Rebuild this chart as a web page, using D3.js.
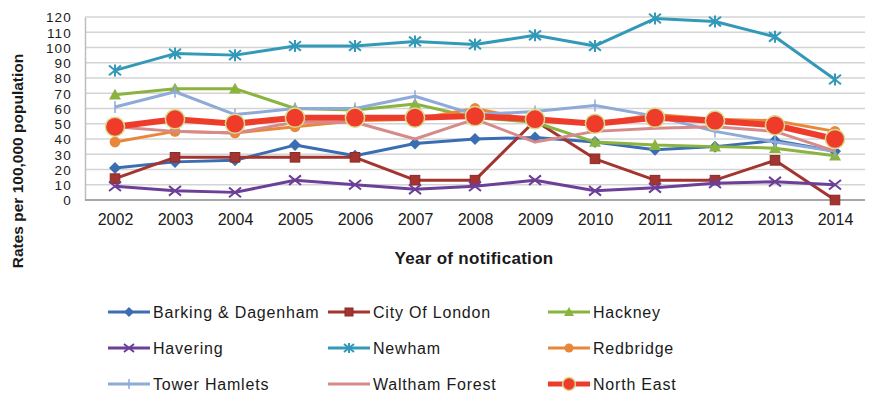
<!DOCTYPE html>
<html>
<head>
<meta charset="utf-8">
<script src="https://cdn.jsdelivr.net/npm/d3@7"></script>
<style>
  body { margin: 0; background: #fff; }
  svg text { font-family: "Liberation Sans", Arial, sans-serif; fill: #1a1a1a; }
</style>
</head>
<body>
<div id="chart"></div>
<script>
var years = ["2002","2003","2004","2005","2006","2007","2008","2009","2010","2011","2012","2013","2014"];
var yTicks = [0,10,20,30,40,50,60,70,80,90,100,110,120];

var barkingDagenham = [21, 25, 26, 36, 29, 37, 40, 41, 38, 33, 35, 39, 32];
var cityOfLondon    = [14, 28, 28, 28, 28, 13, 13, 52, 27, 13, 13, 26, 0];
var hackney         = [69, 73, 73, 60, 59, 63, 54, 51, 38, 36, 35, 34, 29];
var havering        = [9, 6, 5, 13, 10, 7, 9, 13, 6, 8, 11, 12, 10];
var newham          = [85, 96, 95, 101, 101, 104, 102, 108, 101, 119, 117, 107, 79];
var redbridge       = [38, 45, 44, 48, 52, 53, 60, 52, 50, 56, 53, 52, 45];
var towerHamlets    = [61, 71, 56, 60, 60, 68, 56, 58, 62, 55, 45, 38, 32];
var walthamForest   = [48, 45, 44, 51, 51, 40, 53, 38, 45, 47, 48, 45, 32];
var northEast       = [48, 53, 50, 54, 54, 54, 55, 53, 50, 54, 52, 49, 40];

var seriesNames = ["Barking & Dagenham","City Of London","Hackney","Havering","Newham","Redbridge","Tower Hamlets","Waltham Forest","North East"];
var seriesValues = [barkingDagenham, cityOfLondon, hackney, havering, newham, redbridge, towerHamlets, walthamForest, northEast];

// look of each series
var styles = [
    { color: "#3b6db3", marker: "diamond",  width: 3 },
    { color: "#a3342f", marker: "square",   width: 3 },
    { color: "#8ab43f", marker: "triangle", width: 3 },
    { color: "#6c3f98", marker: "x",        width: 3 },
    { color: "#3399b8", marker: "star",     width: 3 },
    { color: "#e8873a", marker: "circle",   width: 3 },
    { color: "#8eaad8", marker: "plus",     width: 3 },
    { color: "#d68a8a", marker: "none",     width: 3 },
    { color: "#ef3b2a", marker: "big",      width: 6 }
];

var W = 869, H = 394;
var plot = { left: 85, right: 865, top: 17, bottom: 200 };

var svg = d3.select("#chart").append("svg")
    .attr("width", W)
    .attr("height", H);

var x = d3.scalePoint().domain(years).range([plot.left, plot.right]).padding(0.5);
var y = d3.scaleLinear().domain([0, 120]).range([plot.bottom, plot.top]);

// gridlines
svg.append("g").selectAll("line")
    .data(yTicks.slice(1))
    .enter().append("line")
    .attr("x1", plot.left).attr("x2", plot.right)
    .attr("y1", function(d){ return y(d); }).attr("y2", function(d){ return y(d); })
    .attr("stroke", "#d4d4d4").attr("stroke-width", 1.5);

// axes
var yAxis = svg.append("g")
    .attr("transform", "translate(" + plot.left + ",0)")
    .call(d3.axisLeft(y).tickValues(yTicks).tickSize(0).tickPadding(13));
yAxis.select(".domain").attr("stroke", "#bdbdbd").attr("stroke-width", 1.5);
yAxis.selectAll("text").style("font-size", "13.5px").style("letter-spacing", "1.2px").attr("dy", "0.36em");

var xAxis = svg.append("g")
    .attr("transform", "translate(0," + plot.bottom + ")")
    .call(d3.axisBottom(x).tickSize(0).tickPadding(14));
xAxis.select(".domain").attr("stroke", "#a6a6a6").attr("stroke-width", 2)
    .attr("d", "M" + plot.left + ",0H" + plot.right);
xAxis.selectAll("text").style("font-size", "16px");

// axis titles
svg.append("text")
    .attr("transform", "translate(23,161) rotate(-90)")
    .attr("text-anchor", "middle")
    .style("font-size", "15.5px").style("font-weight", "bold")
    .text("Rates per 100,000 population");

svg.append("text")
    .attr("x", 474).attr("y", 264)
    .attr("text-anchor", "middle")
    .style("font-size", "17px").style("font-weight", "bold")
    .style("letter-spacing", "0.3px")
    .text("Year of notification");

function drawMarker(g, type, color, cx, cy, s) {
    if (type === "diamond") {
        g.append("path").attr("d", "M" + cx + "," + (cy - s) + "L" + (cx + s) + "," + cy + "L" + cx + "," + (cy + s) + "L" + (cx - s) + "," + cy + "Z")
            .attr("fill", color);
    } else if (type === "square") {
        g.append("rect").attr("x", cx - s * 0.8).attr("y", cy - s * 0.8)
            .attr("width", s * 1.6).attr("height", s * 1.6)
            .attr("fill", color).attr("stroke", "#8a2a26").attr("stroke-width", 1);
    } else if (type === "triangle") {
        g.append("path").attr("d", "M" + cx + "," + (cy - s) + "L" + (cx + s) + "," + (cy + s * 0.8) + "L" + (cx - s) + "," + (cy + s * 0.8) + "Z")
            .attr("fill", color);
    } else if (type === "x") {
        g.append("path").attr("d", "M" + (cx - s) + "," + (cy - s * 0.8) + "L" + (cx + s) + "," + (cy + s * 0.8) + "M" + (cx + s) + "," + (cy - s * 0.8) + "L" + (cx - s) + "," + (cy + s * 0.8))
            .attr("stroke", color).attr("stroke-width", 2);
    } else if (type === "star") {
        g.append("path").attr("d", "M" + (cx - s) + "," + (cy - s * 0.8) + "L" + (cx + s) + "," + (cy + s * 0.8) + "M" + (cx + s) + "," + (cy - s * 0.8) + "L" + (cx - s) + "," + (cy + s * 0.8) + "M" + cx + "," + (cy - s) + "L" + cx + "," + (cy + s))
            .attr("stroke", color).attr("stroke-width", 2);
    } else if (type === "circle") {
        g.append("circle").attr("cx", cx).attr("cy", cy).attr("r", s * 0.9).attr("fill", color);
    } else if (type === "plus") {
        g.append("path").attr("d", "M" + cx + "," + (cy - s) + "L" + cx + "," + (cy + s))
            .attr("stroke", color).attr("stroke-width", 1.5);
    } else if (type === "big") {
        g.append("circle").attr("cx", cx).attr("cy", cy).attr("r", s * 1.6)
            .attr("fill", color).attr("stroke", "#d6dc8f").attr("stroke-width", 1.5);
    }
}

var line = d3.line()
    .x(function(d, i){ return x(years[i]); })
    .y(function(d){ return y(d); });

seriesValues.forEach(function(vals, k) {
    var st = styles[k];
    var g = svg.append("g");
    g.append("path")
        .datum(vals)
        .attr("fill", "none")
        .attr("stroke", st.color)
        .attr("stroke-width", st.width)
        .attr("stroke-linejoin", "round")
        .attr("d", line);
    vals.forEach(function(v, i) {
        drawMarker(g, st.marker, st.color, x(years[i]), y(v), 6);
    });
});

// legend
var legendCols = [108, 328, 548];
var legendRows = [312, 348, 384];
seriesNames.forEach(function(name, k) {
    var st = styles[k];
    var lx = legendCols[k % 3], ly = legendRows[Math.floor(k / 3)];
    var g = svg.append("g");
    g.append("line")
        .attr("x1", lx).attr("x2", lx + 42)
        .attr("y1", ly).attr("y2", ly)
        .attr("stroke", st.color).attr("stroke-width", st.width === 6 ? 5 : 3);
    drawMarker(g, st.marker, st.color, lx + 21, ly, st.marker === "big" ? 4 : 5);
    g.append("text")
        .attr("x", lx + 45).attr("y", ly).attr("dy", "0.35em")
        .style("font-size", "16px")
        .style("letter-spacing", "0.8px")
        .text(name);
});
</script>
</body>
</html>
